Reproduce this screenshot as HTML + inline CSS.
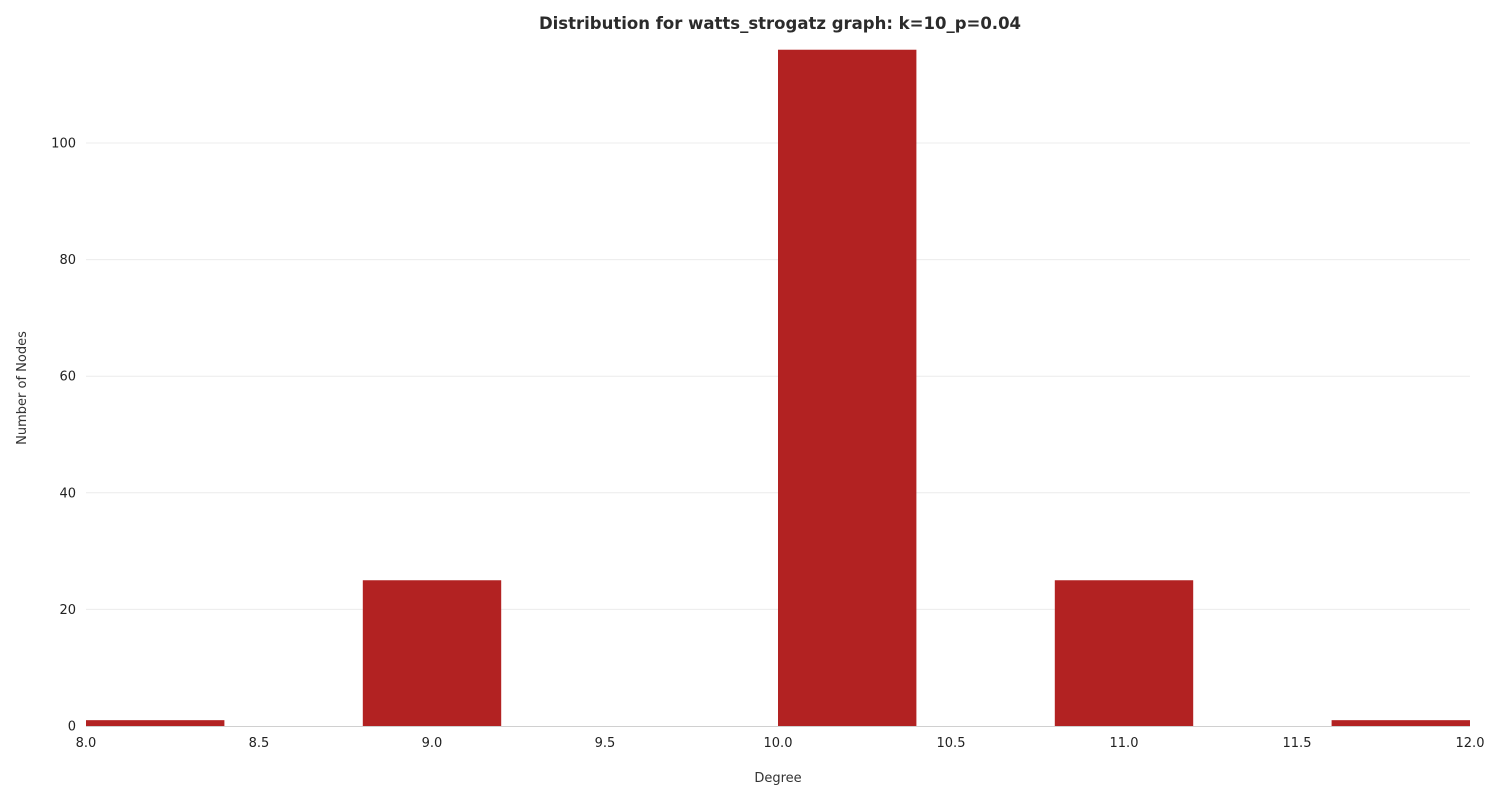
<!DOCTYPE html>
<html><head><meta charset="utf-8"><style>
body{margin:0;background:#fff;font-family:"DejaVu Sans","Liberation Sans",sans-serif}
</style></head><body>
<svg id="chart" width="1500" height="800" xmlns="http://www.w3.org/2000/svg">
<text x="780" y="29" text-anchor="middle" font-size="16.5" font-weight="bold" fill="#2b2b2b">Distribution for watts_strogatz graph: k=10_p=0.04</text>
<text x="778" y="782" text-anchor="middle" font-size="13" fill="#333">Degree</text>
<text transform="translate(26,388) rotate(-90)" text-anchor="middle" font-size="13" fill="#333">Number of Nodes</text>
<g id="grid"></g><g id="bars"></g><g id="xticks"></g><g id="yticks"></g>
</svg>
<script>
const binStarts=[8.0,8.8,10.0,10.8,11.6];
const binWidth=0.4;
const counts=[1,25,116,25,1];
const xTickLabels=["8.0","8.5","9.0","9.5","10.0","10.5","11.0","11.5","12.0"];
const yTickLabels=["0","20","40","60","80","100"];
const NS="http://www.w3.org/2000/svg";
const x=v=>86+(v-8)*(1470-86)/4;
const y=v=>726-v*(726-143)/100;
function mk(t,a,p){const e=document.createElementNS(NS,t);for(const k in a)e.setAttribute(k,a[k]);document.getElementById(p).appendChild(e);return e;}
yTickLabels.forEach(l=>{const v=+l;
 if(v>0){const g=mk('line',{x1:86,x2:1470,y1:y(v),y2:y(v),stroke:'#ececec','stroke-width':1},'grid');
 
 }
 const t=mk('text',{x:76,y:y(v)+4.5,'text-anchor':'end','font-size':13,fill:'#222'},'yticks');t.textContent=l;
 
 });
const ax=mk('line',{x1:86,x2:1470,y1:726.5,y2:726.5,stroke:'#d0d0d0','stroke-width':1},'grid');


binStarts.forEach((s,i)=>{const r=mk('rect',{x:x(s),y:y(counts[i]),width:x(s+binWidth)-x(s),height:y(0)-y(counts[i]),fill:'#b22222'},'bars');
 
 });
xTickLabels.forEach(l=>{const t=mk('text',{x:x(+l),y:747,'text-anchor':'middle','font-size':13,fill:'#222'},'xticks');t.textContent=l;
 
 });
</script>
</body></html>
